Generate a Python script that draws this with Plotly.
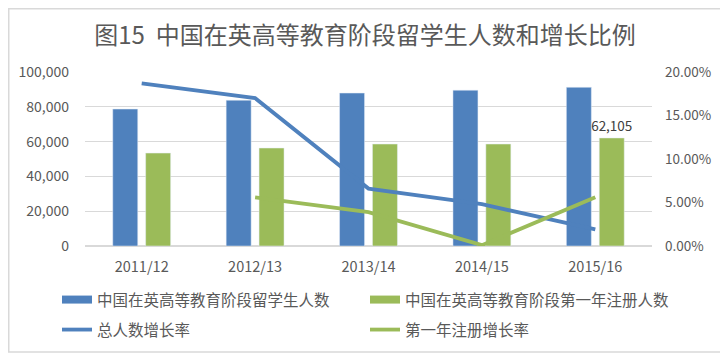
import plotly.graph_objects as go

categories = ["2011/12", "2012/13", "2013/14", "2014/15", "2015/16"]
total_students = [78715, 83790, 87895, 89540, 91215]
first_year = [53400, 56300, 58600, 58600, 62105]
total_growth = [0.187, 0.170, 0.066, 0.048, 0.019]
first_year_growth = [None, 0.056, 0.039, 0.001, 0.056]
first_year_labels = ["", "", "", "", "62,105"]

names = ["中国在英高等教育阶段留学生人数", "中国在英高等教育阶段第一年注册人数", "总人数增长率", "第一年注册增长率"]

BLUE = "#4F81BD"
GREEN = "#9BBB59"
GREY = "#595959"
FONT = "Noto Sans CJK SC"

# page has an 8px body margin, so the figure is 8px smaller and shifted
OFF = 8
W, H = 728 - OFF, 360 - OFF
L, T = 85 - OFF, 72 - OFF
PR, PB = 652 - OFF, 246 - OFF
R, B = W - PR, H - PB
pw, ph = PR - L, PB - T

fig = go.Figure()
fig.add_trace(go.Bar(x=categories, y=total_students, name=names[0], marker_color=BLUE,
                     showlegend=False))
fig.add_trace(go.Bar(x=categories, y=first_year, name=names[1], marker_color=GREEN,
                     text=first_year_labels, textposition="outside", cliponaxis=False,
                     constraintext="none",
                     textfont=dict(size=13.5, color="#404040", family=FONT),
                     showlegend=False))
fig.add_trace(go.Scatter(x=categories, y=total_growth, name=names[2], mode="lines",
                         line=dict(color=BLUE, width=3.8), yaxis="y2", showlegend=False))
fig.add_trace(go.Scatter(x=categories, y=first_year_growth, name=names[3], mode="lines",
                         line=dict(color=GREEN, width=3.8), yaxis="y2", showlegend=False))

# legend entries, one legend box per entry (2 x 2 grid)
legend_ids = ["legend", "legend2", "legend3", "legend4"]
legend_widths = [8, 8, 3.8, 3.8]
legend_colors = [BLUE, GREEN, BLUE, GREEN]
for nm, lid, lw, lc in zip(names, legend_ids, legend_widths, legend_colors):
    fig.add_trace(go.Scatter(x=[None], y=[None], name=nm, mode="lines",
                             line=dict(color=lc, width=lw), legend=lid))

def leg(xleft, ymid):
    return dict(orientation="h", xref="container", x=(xleft - OFF) / W, xanchor="left",
                yref="container", y=1 - (ymid - OFF) / H, yanchor="middle",
                font=dict(size=15.5, color=GREY, family=FONT),
                bgcolor="rgba(0,0,0,0)", itemwidth=30)

fig.update_layout(
    width=W, height=H,
    margin=dict(l=L, r=R, t=T, b=B, autoexpand=False),
    paper_bgcolor="white", plot_bgcolor="white",
    font=dict(family=FONT, color=GREY, size=14),
    title=dict(text="图15  中国在英高等教育阶段留学生人数和增长比例",
               x=(365 - OFF) / W, xanchor="center", xref="container",
               y=1 - (36 - OFF) / H, yref="container", yanchor="middle",
               font=dict(size=24, color=GREY, family=FONT)),
    barmode="group", bargap=0.42, bargroupgap=0.24,
    xaxis=dict(showgrid=False, showline=False, ticks="", tickfont=dict(size=14.5, color=GREY),
               ticklabelstandoff=10),
    yaxis=dict(range=[0, 100000], dtick=20000, tickformat=",", gridcolor="#D9D9D9",
               gridwidth=1, zeroline=True, zerolinecolor="#D9D9D9", showline=False,
               tickfont=dict(size=14, color=GREY), ticklabelstandoff=15),
    yaxis2=dict(range=[0, 0.2], dtick=0.05, tickformat=".2%", overlaying="y", side="right",
                showgrid=False, zeroline=False, showline=False,
                tickfont=dict(size=13.5, color=GREY), ticklabelstandoff=12),
    legend=leg(57, 300),
    legend2=leg(365, 300),
    legend3=leg(57, 330),
    legend4=leg(365, 330),
    shapes=[dict(type="rect", xref="paper", yref="paper",
                 x0=(0.75 - L) / pw, x1=(722 - OFF - L) / pw,
                 y0=-(352 - OFF - PB) / ph, y1=(PB - 0.75) / ph,
                 line=dict(color="#D9D9D9", width=1.5), layer="below")],
)

fig.write_html("out.html")
